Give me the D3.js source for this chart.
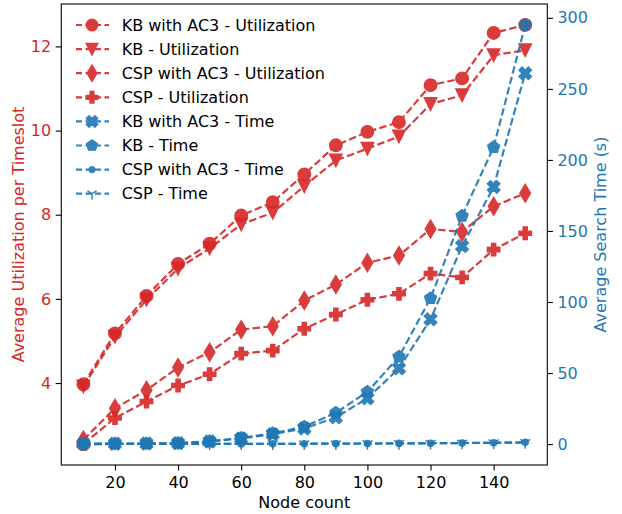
<!DOCTYPE html>
<html>
<head>
<meta charset="utf-8">
<script src="https://cdn.jsdelivr.net/npm/d3@7"></script>
<style>
  body { margin: 0; background: #fff; }
  svg { display: block; font-family: "DejaVu Sans", sans-serif; }
</style>
</head>
<body>
<div id="chart"></div>
<script>
var width = 622;
var height = 514;

var red = '#d62728';
var blue = '#1f77b4';

// plot frame
var plotLeft = 61.3, plotRight = 547.3, plotTop = 4, plotBottom = 465;

var fontSize = 16;
var markerSize = 12.5;
var legendMarkerSize = 11.5;

// data
var nodeCounts = [10, 20, 30, 40, 50, 60, 70, 80, 90, 100, 110, 120, 130, 140, 150];

var kbAc3Util = [3.97, 5.18, 6.07, 6.83, 7.31, 7.98, 8.30, 8.96, 9.65, 9.97, 10.20, 11.08, 11.24, 12.32, 12.51];
var kbUtil = [3.92, 5.10, 5.98, 6.72, 7.20, 7.77, 8.05, 8.68, 9.29, 9.57, 9.86, 10.63, 10.84, 11.79, 11.91];
var cspAc3Util = [2.65, 3.40, 3.83, 4.37, 4.73, 5.27, 5.35, 5.96, 6.34, 6.86, 7.03, 7.66, 7.59, 8.20, 8.51];
var cspUtil = [2.55, 3.17, 3.56, 3.94, 4.21, 4.70, 4.77, 5.29, 5.63, 5.98, 6.12, 6.60, 6.51, 7.17, 7.56];

var kbAc3Time = [0.2, 0.3, 0.4, 0.6, 1.8, 4.0, 7.0, 11.0, 18.8, 32.2, 53.3, 87.8, 139.4, 181.0, 261.0];
var kbTime = [0.3, 0.3, 0.4, 0.7, 2.0, 4.3, 7.5, 12.2, 22.0, 36.8, 61.5, 102.6, 160.6, 209.0, 295.0];
var cspAc3Time = [0.02, 0.03, 0.05, 0.07, 0.1, 0.13, 0.17, 0.22, 0.28, 0.35, 0.45, 0.55, 0.7, 0.9, 1.2];
var cspTime = [0.03, 0.04, 0.06, 0.08, 0.12, 0.15, 0.2, 0.25, 0.3, 0.38, 0.48, 0.6, 0.75, 0.95, 1.1];

var xTicks = [20, 40, 60, 80, 100, 120, 140];
var leftTicks = [4, 6, 8, 10, 12];
var rightTicks = [0, 50, 100, 150, 200, 250, 300];

var utilSeries = [
    { name: 'KB with AC3 - Utilization', values: kbAc3Util, marker: 'o' },
    { name: 'KB - Utilization', values: kbUtil, marker: 'v' },
    { name: 'CSP with AC3 - Utilization', values: cspAc3Util, marker: 'd' },
    { name: 'CSP - Utilization', values: cspUtil, marker: 'P' }
];
var timeSeries = [
    { name: 'KB with AC3 - Time', values: kbAc3Time, marker: 'X' },
    { name: 'KB - Time', values: kbTime, marker: 'p' },
    { name: 'CSP with AC3 - Time', values: cspAc3Time, marker: '.' },
    { name: 'CSP - Time', values: cspTime, marker: '1' }
];


// matplotlib-like padded domain
function padded(values) {
    var ext = d3.extent(values);
    var m = (ext[1] - ext[0]) * 0.05;
    return [ext[0] - m, ext[1] + m];
}

var xScale = d3.scaleLinear().domain(padded(nodeCounts)).range([plotLeft, plotRight]);
var yLeft = d3.scaleLinear()
    .domain(padded(d3.merge(utilSeries.map(function (s) { return s.values; }))))
    .range([plotBottom, plotTop]);
var yRight = d3.scaleLinear()
    .domain(padded(d3.merge(timeSeries.map(function (s) { return s.values; }))))
    .range([plotBottom, plotTop]);


function polygon(points, k) {
    return 'M' + points.map(function (p) { return (p[0] * k).toFixed(2) + ',' + (p[1] * k).toFixed(2); }).join('L') + 'Z';
}

function circlePath(r) {
    var p = d3.path();
    p.arc(0, 0, r, 0, 2 * Math.PI);
    p.closePath();
    return p.toString();
}

function markerPath(kind, s) {
    var h = s / 2;
    if (kind === 'o') return circlePath(h);
    if (kind === '.') return circlePath(s / 4);
    if (kind === 'v') return polygon([[0, 1], [-1, -1], [1, -1]], h);
    if (kind === 'd') return polygon([[0, -0.7071], [0.4243, 0], [0, 0.7071], [-0.4243, 0]], s);
    if (kind === 'P') {
        return polygon([[-1, -3], [1, -3], [1, -1], [3, -1], [3, 1], [1, 1],
            [1, 3], [-1, 3], [-1, 1], [-3, 1], [-3, -1], [-1, -1]], s / 6);
    }
    if (kind === 'X') {
        return polygon([[-1, -2], [0, -1], [1, -2], [2, -1], [1, 0], [2, 1],
            [1, 2], [0, 1], [-1, 2], [-2, 1], [-1, 0], [-2, -1]], s / 4);
    }
    if (kind === 'p') {
        var pts = [];
        for (var i = 0; i < 5; i++) {
            var a = (90 + 72 * i) * Math.PI / 180;
            pts.push([Math.cos(a), -Math.sin(a)]);
        }
        return polygon(pts, h);
    }
    if (kind === '1') {
        return 'M0,0L0,' + (0.5 * s) + 'M0,0L' + (0.4 * s) + ',' + (-0.25 * s) + 'M0,0L' + (-0.4 * s) + ',' + (-0.25 * s);
    }
    return '';
}

function drawMarker(sel, kind, color, size) {
    var path = sel.append('path').attr('d', markerPath(kind, size));
    if (kind === '1') {
        path.attr('fill', 'none').attr('stroke', color).attr('stroke-width', 1.5);
    } else {
        path.attr('fill', color).attr('stroke', color).attr('stroke-width', 1.4);
    }
    return path;
}


var svg = d3.select('#chart').append('svg')
    .attr('width', width)
    .attr('height', height);

svg.append('defs').append('clipPath').attr('id', 'plotClip')
    .append('rect')
    .attr('x', plotLeft).attr('y', plotTop)
    .attr('width', plotRight - plotLeft).attr('height', plotBottom - plotTop);

function addSeries(series, yScale, color) {
    series.forEach(function (s) {
        var g = svg.append('g').attr('opacity', 0.9);
        var line = d3.line()
            .x(function (d, i) { return xScale(nodeCounts[i]); })
            .y(function (d) { return yScale(d); });

        g.append('path')
            .attr('d', line(s.values))
            .attr('fill', 'none')
            .attr('stroke', color)
            .attr('stroke-width', 2.2)
            .attr('stroke-dasharray', '7.5,3.3')
            .attr('clip-path', 'url(#plotClip)');

        s.values.forEach(function (v, i) {
            var m = g.append('g')
                .attr('transform', 'translate(' + xScale(nodeCounts[i]) + ',' + yScale(v) + ')');
            drawMarker(m, s.marker, color, markerSize);
        });
    });
}

addSeries(utilSeries, yLeft, red);
addSeries(timeSeries, yRight, blue);


// Axes
function styleAxis(g, color) {
    g.selectAll('.domain').remove();
    g.selectAll('.tick line').attr('stroke', '#000').attr('stroke-width', 1.1);
    g.selectAll('.tick text')
        .attr('fill', color)
        .style('font-size', fontSize + 'px')
        .style('font-family', '"DejaVu Sans", sans-serif');
}

var xAxis = svg.append('g')
    .attr('transform', 'translate(0,' + plotBottom + ')')
    .call(d3.axisBottom(xScale).tickValues(xTicks).tickSize(5.6).tickPadding(5.6));
styleAxis(xAxis, '#000');

var leftAxis = svg.append('g')
    .attr('transform', 'translate(' + plotLeft + ',0)')
    .call(d3.axisLeft(yLeft).tickValues(leftTicks).tickSize(5.6).tickPadding(4.5));
styleAxis(leftAxis, red);

var rightAxis = svg.append('g')
    .attr('transform', 'translate(' + plotRight + ',0)')
    .call(d3.axisRight(yRight).tickValues(rightTicks).tickSize(5.6).tickPadding(4.5));
styleAxis(rightAxis, blue);

svg.append('rect')
    .attr('x', plotLeft).attr('y', plotTop)
    .attr('width', plotRight - plotLeft).attr('height', plotBottom - plotTop)
    .attr('fill', 'none')
    .attr('stroke', '#000')
    .attr('stroke-width', 1.1);

// Axis labels
svg.append('text')
    .attr('x', (plotLeft + plotRight) / 2)
    .attr('y', 507.5)
    .attr('text-anchor', 'middle')
    .style('font-size', fontSize + 'px')
    .text('Node count');

svg.append('text')
    .attr('transform', 'translate(18,' + (plotTop + plotBottom) / 2 + ') rotate(-90)')
    .attr('text-anchor', 'middle')
    .attr('dy', '0.35em')
    .attr('fill', red)
    .style('font-size', fontSize + 'px')
    .text('Average Utilization per Timeslot');

svg.append('text')
    .attr('transform', 'translate(600,' + (plotTop + plotBottom) / 2 + ') rotate(-90)')
    .attr('text-anchor', 'middle')
    .attr('dy', '0.35em')
    .attr('fill', blue)
    .style('font-size', fontSize + 'px')
    .text('Average Search Time (s)');


// Legend
var legendItems = utilSeries.map(function (s) { return { name: s.name, marker: s.marker, color: red }; })
    .concat(timeSeries.map(function (s) { return { name: s.name, marker: s.marker, color: blue }; }));

var legend = svg.append('g');
legendItems.forEach(function (item, i) {
    var y = 25 + i * 24.1;
    var row = legend.append('g').attr('opacity', 0.9);
    row.append('line')
        .attr('x1', 76).attr('x2', 109)
        .attr('y1', y).attr('y2', y)
        .attr('stroke', item.color)
        .attr('stroke-width', 2.2)
        .attr('stroke-dasharray', '6,3.5')
        .attr('stroke-dashoffset', 0);
    var m = row.append('g').attr('transform', 'translate(92,' + y + ')');
    drawMarker(m, item.marker, item.color, legendMarkerSize);
    legend.append('text')
        .attr('x', 121.7)
        .attr('y', y)
        .attr('dy', '0.36em')
        .style('font-size', fontSize + 'px')
        .text(item.name);
});
</script>
</body>
</html>
